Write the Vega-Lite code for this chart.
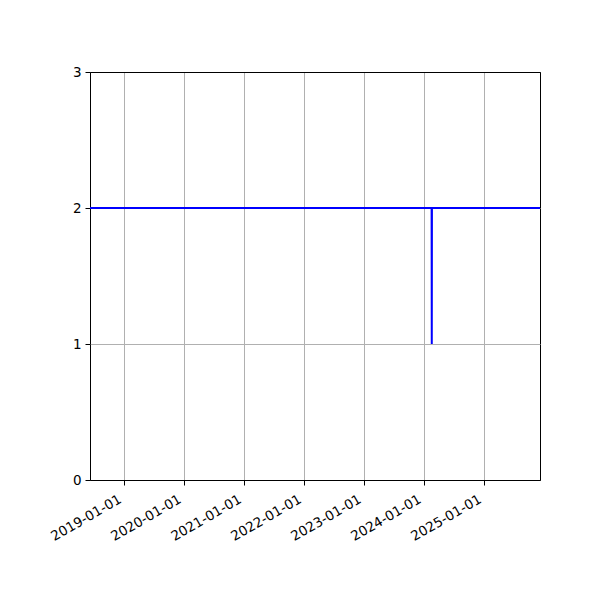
{
  "$schema": "https://vega.github.io/schema/vega-lite/v6.json",
  "width": 450,
  "height": 408,
  "autosize": {"type": "none"},
  "padding": {"left": 90, "top": 72, "right": 60, "bottom": 120},
  "background": "white",
  "data": {
    "values": [
      {"date": "2018-06-06", "value": 2},
      {"date": "2024-02-15", "value": 2},
      {"date": "2024-02-16", "value": 1},
      {"date": "2024-02-17", "value": 2},
      {"date": "2025-12-06", "value": 2}
    ]
  },
  "mark": {"type": "line", "color": "#0000ff", "strokeWidth": 2, "clip": true},
  "encoding": {
    "x": {
      "field": "date",
      "type": "temporal",
      "scale": {
        "domain": [
          {"year": 2018, "month": 6, "date": 6},
          {"year": 2025, "month": 12, "date": 6}
        ]
      },
      "axis": {
        "title": null,
        "values": [
          {"year": 2019, "month": 1, "date": 1},
          {"year": 2020, "month": 1, "date": 1},
          {"year": 2021, "month": 1, "date": 1},
          {"year": 2022, "month": 1, "date": 1},
          {"year": 2023, "month": 1, "date": 1},
          {"year": 2024, "month": 1, "date": 1},
          {"year": 2025, "month": 1, "date": 1}
        ],
        "format": "%Y-%m-%d",
        "labelOverlap": false,
        "labelAngle": -30,
        "labelAlign": "right",
        "labelBaseline": "top",
        "labelPadding": 7,
        "labelOffset": -8,
        "labelFontSize": 13.5,
        "labelFont": "DejaVu Sans",
        "labelColor": "black",
        "grid": true,
        "gridColor": "#b0b0b0",
        "gridWidth": 1,
        "tickColor": "black",
        "tickSize": 5,
        "domain": false
      }
    },
    "y": {
      "field": "value",
      "type": "quantitative",
      "scale": {"domain": [0, 3], "nice": false, "zero": false},
      "axis": {
        "title": null,
        "values": [0, 1, 2, 3],
        "labelFontSize": 13.5,
        "labelFont": "DejaVu Sans",
        "labelColor": "black",
        "labelPadding": 4,
        "grid": true,
        "gridColor": {
          "condition": {"test": "datum.value === 3 || datum.value === 0", "value": "black"},
          "value": "#b0b0b0"
        },
        "gridWidth": 1,
        "tickColor": "black",
        "tickSize": 5,
        "domain": false
      }
    }
  },
  "config": {
    "view": {"stroke": "black", "strokeWidth": 1}
  }
}
